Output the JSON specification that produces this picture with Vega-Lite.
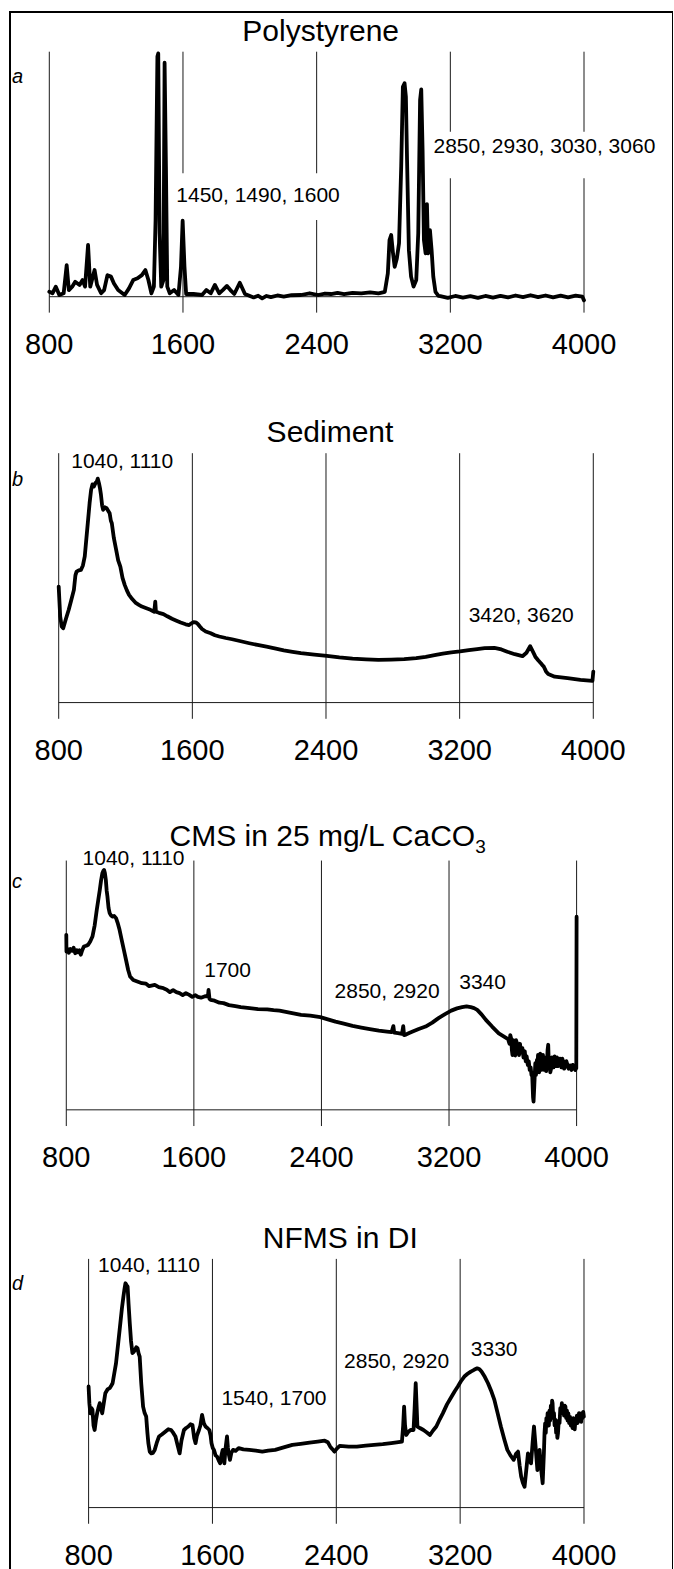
{
"$schema": "https://vega.github.io/schema/vega-lite/v6.json",
"width": 663, "height": 1560,
"autosize": {"type": "none"},
"padding": {"left": 10, "top": 12, "right": 0, "bottom": 0},
"background": "white",
"config": {"view": {"stroke": "black", "strokeWidth": 2}, "text": {"font": "Liberation Sans", "color": "black"}, "line": {"color": "black", "strokeWidth": 3.8, "strokeJoin": "round", "strokeCap": "round"}},
"datasets": {
"one": [{}],
"grid": [{"wn": 800, "lab": "800"}, {"wn": 1600, "lab": "1600"}, {"wn": 2400, "lab": "2400"}, {"wn": 3200, "lab": "3200"}, {"wn": 4000, "lab": "4000"}],
"annA": [{"wn": 1560, "a": 41.1, "label": "1450, 1490, 1600"}, {"wn": 3099, "a": 60.9, "label": "2850, 2930, 3030, 3060"}],
"annB": [{"wn": 875, "a": 96.3, "label": "1040, 1110"}, {"wn": 3254, "a": 34.6, "label": "3420, 3620"}],
"annC": [{"wn": 902, "a": 100.7, "label": "1040, 1110"}, {"wn": 1665, "a": 55.8, "label": "1700"}, {"wn": 2482, "a": 47.1, "label": "2850, 2920"}, {"wn": 3264, "a": 50.8, "label": "3340"}],
"annD": [{"wn": 861, "a": 97.3, "label": "1040, 1110"}, {"wn": 1658, "a": 43.6, "label": "1540, 1700"}, {"wn": 2450, "a": 58.4, "label": "2850, 2920"}, {"wn": 3269, "a": 63.2, "label": "3330"}],
"specA": [
{"wn":800,"a":2.0},{"wn":819,"a":1.4},{"wn":839,"a":4.1},{"wn":860,"a":0.7},{"wn":886,"a":1.4},{"wn":904,"a":12.9},{"wn":917,"a":2.7},{"wn":937,"a":4.1},{"wn":955,"a":6.1},{"wn":981,"a":4.8},{"wn":999,"a":6.8},{"wn":1014,"a":4.1},{"wn":1032,"a":21.1},{"wn":1045,"a":4.1},{"wn":1071,"a":10.9},{"wn":1086,"a":4.8},{"wn":1110,"a":1.4},{"wn":1128,"a":2.7},{"wn":1148,"a":8.8},{"wn":1169,"a":8.2},{"wn":1187,"a":5.4},{"wn":1212,"a":2.7},{"wn":1251,"a":0.7},{"wn":1277,"a":3.4},{"wn":1302,"a":6.8},{"wn":1328,"a":7.5},{"wn":1354,"a":8.8},{"wn":1375,"a":10.9},{"wn":1393,"a":6.8},{"wn":1411,"a":1.4},{"wn":1426,"a":4.1},{"wn":1436,"a":31.3},{"wn":1447,"a":98.0},{"wn":1452,"a":99.3},{"wn":1460,"a":25.9},{"wn":1470,"a":4.1},{"wn":1483,"a":6.8},{"wn":1490,"a":95.5},{"wn":1498,"a":53.1},{"wn":1506,"a":4.1},{"wn":1521,"a":1.4},{"wn":1547,"a":2.7},{"wn":1573,"a":0.7},{"wn":1588,"a":12.2},{"wn":1598,"a":31.0},{"wn":1609,"a":12.2},{"wn":1619,"a":1.1},{"wn":1663,"a":1.1},{"wn":1714,"a":0.7},{"wn":1740,"a":2.7},{"wn":1766,"a":1.4},{"wn":1791,"a":4.8},{"wn":1817,"a":1.4},{"wn":1838,"a":2.7},{"wn":1863,"a":4.4},{"wn":1884,"a":2.7},{"wn":1907,"a":1.1},{"wn":1940,"a":5.7},{"wn":1971,"a":1.1},{"wn":2023,"a":-0.3},{"wn":2050,"a":0.4},{"wn":2074,"a":-0.7},{"wn":2100,"a":0.3},{"wn":2126,"a":-0.2},{"wn":2165,"a":0.5},{"wn":2203,"a":0},{"wn":2250,"a":0.6},{"wn":2306,"a":0.7},{"wn":2358,"a":1.4},{"wn":2409,"a":0.7},{"wn":2450,"a":1.3},{"wn":2486,"a":1.1},{"wn":2525,"a":1.6},{"wn":2564,"a":1.1},{"wn":2615,"a":1.6},{"wn":2667,"a":1.4},{"wn":2720,"a":1.8},{"wn":2770,"a":1.4},{"wn":2808,"a":2.0},{"wn":2826,"a":9.5},{"wn":2836,"a":23.1},{"wn":2846,"a":25.2},{"wn":2857,"a":17.7},{"wn":2867,"a":12.2},{"wn":2880,"a":15.6},{"wn":2893,"a":21.8},{"wn":2906,"a":53.1},{"wn":2916,"a":85.7},{"wn":2926,"a":87.1},{"wn":2934,"a":81.6},{"wn":2941,"a":55.8},{"wn":2952,"a":19.0},{"wn":2965,"a":8.2},{"wn":2980,"a":4.1},{"wn":2996,"a":6.8},{"wn":3008,"a":25.9},{"wn":3019,"a":80.3},{"wn":3026,"a":84.6},{"wn":3034,"a":59.9},{"wn":3042,"a":23.1},{"wn":3052,"a":17.7},{"wn":3060,"a":37.8},{"wn":3067,"a":17.7},{"wn":3078,"a":27.2},{"wn":3088,"a":19.0},{"wn":3098,"a":8.2},{"wn":3111,"a":2.0},{"wn":3129,"a":0.3},{"wn":3140,"a":0.2},{"wn":3185,"a":-0.5},{"wn":3230,"a":0.3},{"wn":3275,"a":-0.4},{"wn":3320,"a":0.2},{"wn":3365,"a":-0.5},{"wn":3410,"a":0.3},{"wn":3455,"a":-0.4},{"wn":3500,"a":0.3},{"wn":3545,"a":-0.3},{"wn":3590,"a":0.5},{"wn":3635,"a":-0.2},{"wn":3680,"a":0.6},{"wn":3725,"a":-0.2},{"wn":3770,"a":0.5},{"wn":3815,"a":-0.3},{"wn":3860,"a":0.4},{"wn":3905,"a":-0.3},{"wn":3950,"a":0.4},{"wn":3990,"a":0},{"wn":4000,"a":-1.5}],
"specB": [
{"wn":800,"a":46.5},{"wn":809,"a":34.5},{"wn":818,"a":30.5},{"wn":827,"a":29.8},{"wn":843,"a":33.5},{"wn":860,"a":37.2},{"wn":875,"a":41},{"wn":891,"a":45.2},{"wn":900,"a":51},{"wn":907,"a":52.5},{"wn":920,"a":53},{"wn":933,"a":53.2},{"wn":945,"a":55},{"wn":956,"a":58.6},{"wn":966,"a":66},{"wn":976,"a":73.3},{"wn":985,"a":80},{"wn":994,"a":85.3},{"wn":1002,"a":87.5},{"wn":1010,"a":86.6},{"wn":1020,"a":88},{"wn":1028,"a":88.6},{"wn":1034,"a":89.8},{"wn":1041,"a":88.0},{"wn":1047,"a":86},{"wn":1053,"a":83.3},{"wn":1060,"a":79},{"wn":1066,"a":77.3},{"wn":1075,"a":78.3},{"wn":1087,"a":77.9},{"wn":1095,"a":77},{"wn":1105,"a":75.9},{"wn":1112,"a":73},{"wn":1118,"a":71.9},{"wn":1130,"a":66},{"wn":1144,"a":61.2},{"wn":1156,"a":57},{"wn":1169,"a":54.5},{"wn":1182,"a":50},{"wn":1195,"a":47.2},{"wn":1208,"a":45},{"wn":1221,"a":43.2},{"wn":1240,"a":41.5},{"wn":1259,"a":40.1},{"wn":1280,"a":39.2},{"wn":1298,"a":38.5},{"wn":1325,"a":37.8},{"wn":1349,"a":37.2},{"wn":1372,"a":36.4},{"wn":1378,"a":40.5},{"wn":1382,"a":36.4},{"wn":1400,"a":36},{"wn":1427,"a":35.5},{"wn":1450,"a":34.6},{"wn":1478,"a":33.6},{"wn":1505,"a":32.8},{"wn":1530,"a":32.1},{"wn":1560,"a":31.4},{"wn":1581,"a":31.1},{"wn":1595,"a":31.8},{"wn":1607,"a":32.3},{"wn":1620,"a":32.2},{"wn":1633,"a":31.5},{"wn":1645,"a":30.5},{"wn":1658,"a":29.5},{"wn":1680,"a":28.5},{"wn":1710,"a":27.8},{"wn":1735,"a":27},{"wn":1761,"a":26.5},{"wn":1800,"a":25.9},{"wn":1838,"a":25.4},{"wn":1890,"a":24.6},{"wn":1941,"a":23.8},{"wn":1990,"a":23.1},{"wn":2044,"a":22.4},{"wn":2100,"a":21.6},{"wn":2147,"a":20.9},{"wn":2200,"a":20.3},{"wn":2250,"a":19.8},{"wn":2330,"a":19.2},{"wn":2405,"a":18.7},{"wn":2480,"a":18.1},{"wn":2559,"a":17.6},{"wn":2640,"a":17.3},{"wn":2713,"a":17.1},{"wn":2790,"a":17.2},{"wn":2868,"a":17.4},{"wn":2940,"a":17.8},{"wn":2997,"a":18.3},{"wn":3050,"a":19},{"wn":3099,"a":19.6},{"wn":3150,"a":20.1},{"wn":3202,"a":20.5},{"wn":3255,"a":21.0},{"wn":3305,"a":21.4},{"wn":3350,"a":21.8},{"wn":3408,"a":21.9},{"wn":3450,"a":21.3},{"wn":3485,"a":20.4},{"wn":3530,"a":19.4},{"wn":3576,"a":18.6},{"wn":3600,"a":20},{"wn":3622,"a":22.6},{"wn":3640,"a":20.2},{"wn":3653,"a":18.4},{"wn":3670,"a":17.0},{"wn":3686,"a":15.8},{"wn":3695,"a":15},{"wn":3704,"a":14.4},{"wn":3717,"a":12.5},{"wn":3730,"a":11.5},{"wn":3769,"a":10.4},{"wn":3846,"a":9.8},{"wn":3923,"a":9.1},{"wn":3995,"a":8.7},{"wn":4000,"a":12.4}],
"specC": [
{"wn":800,"a":70.2},{"wn":801,"a":63.5},{"wn":808,"a":64.5},{"wn":816,"a":63.0},{"wn":826,"a":64.5},{"wn":837,"a":63.8},{"wn":846,"a":65},{"wn":856,"a":62.8},{"wn":866,"a":64},{"wn":875,"a":63.2},{"wn":883,"a":64},{"wn":891,"a":62.2},{"wn":900,"a":64},{"wn":910,"a":65.5},{"wn":925,"a":65.8},{"wn":937,"a":66.2},{"wn":950,"a":67.5},{"wn":964,"a":69.5},{"wn":978,"a":74},{"wn":991,"a":80.2},{"wn":1000,"a":84},{"wn":1010,"a":88.2},{"wn":1018,"a":92},{"wn":1026,"a":94.9},{"wn":1032,"a":95.8},{"wn":1037,"a":96.2},{"wn":1042,"a":95},{"wn":1048,"a":92.2},{"wn":1053,"a":88},{"wn":1058,"a":85.6},{"wn":1065,"a":81},{"wn":1072,"a":78.9},{"wn":1080,"a":78},{"wn":1091,"a":77.5},{"wn":1100,"a":77.8},{"wn":1112,"a":76.9},{"wn":1122,"a":75},{"wn":1134,"a":72.2},{"wn":1148,"a":68},{"wn":1161,"a":64.2},{"wn":1175,"a":60},{"wn":1188,"a":56.1},{"wn":1200,"a":53.5},{"wn":1220,"a":52.1},{"wn":1245,"a":51.5},{"wn":1274,"a":50.8},{"wn":1300,"a":50.6},{"wn":1320,"a":49.6},{"wn":1355,"a":50.1},{"wn":1380,"a":49.2},{"wn":1409,"a":48.8},{"wn":1430,"a":48.2},{"wn":1450,"a":47.2},{"wn":1470,"a":48.0},{"wn":1490,"a":47.2},{"wn":1510,"a":46.8},{"wn":1530,"a":46.0},{"wn":1550,"a":46.8},{"wn":1571,"a":46.1},{"wn":1590,"a":45.3},{"wn":1610,"a":46.0},{"wn":1625,"a":45.3},{"wn":1645,"a":45.0},{"wn":1670,"a":45.6},{"wn":1688,"a":45.5},{"wn":1692,"a":48.1},{"wn":1698,"a":44.5},{"wn":1705,"a":44.1},{"wn":1730,"a":43.8},{"wn":1760,"a":43.0},{"wn":1786,"a":42.8},{"wn":1820,"a":42.0},{"wn":1860,"a":41.6},{"wn":1894,"a":41.2},{"wn":1950,"a":40.8},{"wn":2002,"a":40.4},{"wn":2060,"a":40.3},{"wn":2100,"a":40.0},{"wn":2137,"a":39.8},{"wn":2200,"a":39.0},{"wn":2272,"a":38.1},{"wn":2330,"a":37.8},{"wn":2393,"a":37.2},{"wn":2440,"a":36.3},{"wn":2488,"a":35.4},{"wn":2540,"a":34.6},{"wn":2595,"a":33.7},{"wn":2650,"a":33.0},{"wn":2703,"a":32.4},{"wn":2760,"a":31.8},{"wn":2811,"a":31.4},{"wn":2840,"a":31.2},{"wn":2851,"a":33.6},{"wn":2856,"a":31.0},{"wn":2880,"a":30.8},{"wn":2905,"a":30.5},{"wn":2913,"a":33.6},{"wn":2918,"a":30.0},{"wn":2930,"a":30.2},{"wn":2950,"a":30.8},{"wn":2972,"a":31.4},{"wn":3010,"a":32.4},{"wn":3053,"a":33.4},{"wn":3095,"a":35.0},{"wn":3134,"a":36.8},{"wn":3175,"a":38.4},{"wn":3214,"a":39.8},{"wn":3250,"a":40.7},{"wn":3282,"a":41.2},{"wn":3310,"a":41.5},{"wn":3336,"a":41.2},{"wn":3357,"a":40.8},{"wn":3377,"a":40.1},{"wn":3405,"a":38.2},{"wn":3431,"a":36.1},{"wn":3470,"a":33.4},{"wn":3512,"a":30.7},{"wn":3550,"a":29.2},{"wn":3570,"a":28.4},{"wn":3579,"a":26.5},{"wn":3584,"a":30},{"wn":3590,"a":28.5},{"wn":3594,"a":24},{"wn":3598,"a":22},{"wn":3602,"a":28},{"wn":3606,"a":26},{"wn":3610,"a":22},{"wn":3615,"a":21.8},{"wn":3620,"a":28},{"wn":3625,"a":27},{"wn":3629,"a":23},{"wn":3633,"a":25.5},{"wn":3639,"a":22},{"wn":3645,"a":26.5},{"wn":3652,"a":23},{"wn":3660,"a":24.8},{"wn":3667,"a":21},{"wn":3675,"a":23.5},{"wn":3681,"a":19.5},{"wn":3687,"a":21.4},{"wn":3694,"a":18},{"wn":3700,"a":19.5},{"wn":3706,"a":16},{"wn":3712,"a":17},{"wn":3717,"a":14},{"wn":3722,"a":13.4},{"wn":3727,"a":5},{"wn":3730,"a":3.3},{"wn":3735,"a":10},{"wn":3741,"a":18.7},{"wn":3745,"a":14},{"wn":3748,"a":15.5},{"wn":3751,"a":20},{"wn":3754,"a":16.0},{"wn":3758,"a":22},{"wn":3762,"a":20},{"wn":3765,"a":15},{"wn":3768,"a":17},{"wn":3772,"a":22.5},{"wn":3776,"a":21.4},{"wn":3780,"a":16},{"wn":3785,"a":17.5},{"wn":3789,"a":22},{"wn":3795,"a":16.0},{"wn":3800,"a":21},{"wn":3805,"a":20},{"wn":3809,"a":15.5},{"wn":3814,"a":18},{"wn":3818,"a":24},{"wn":3822,"a":26.1},{"wn":3826,"a":18},{"wn":3830,"a":19},{"wn":3835,"a":15},{"wn":3841,"a":16.7},{"wn":3845,"a":21},{"wn":3850,"a":20},{"wn":3855,"a":17},{"wn":3862,"a":21.4},{"wn":3867,"a":17.5},{"wn":3872,"a":18.5},{"wn":3877,"a":21},{"wn":3883,"a":17.5},{"wn":3889,"a":18.7},{"wn":3895,"a":20.5},{"wn":3900,"a":20},{"wn":3905,"a":17},{"wn":3910,"a":20.5},{"wn":3916,"a":19.4},{"wn":3922,"a":16.5},{"wn":3930,"a":17.8},{"wn":3936,"a":19.5},{"wn":3943,"a":18.0},{"wn":3950,"a":16.5},{"wn":3960,"a":17.8},{"wn":3968,"a":16},{"wn":3976,"a":18},{"wn":3984,"a":17.1},{"wn":3992,"a":16},{"wn":3998,"a":16.7},{"wn":4000,"a":77.5}],
"specD": [
{"wn":800,"a":48.7},{"wn":805,"a":42},{"wn":811,"a":37.9},{"wn":818,"a":40},{"wn":825,"a":39.3},{"wn":832,"a":33},{"wn":839,"a":31.2},{"wn":847,"a":35},{"wn":855,"a":37.9},{"wn":863,"a":40},{"wn":872,"a":42.0},{"wn":880,"a":40},{"wn":888,"a":37.9},{"wn":898,"a":42},{"wn":908,"a":46.0},{"wn":922,"a":47.5},{"wn":936,"a":48.0},{"wn":946,"a":49},{"wn":955,"a":50.0},{"wn":966,"a":54},{"wn":977,"a":58.0},{"wn":991,"a":66},{"wn":1005,"a":74.1},{"wn":1015,"a":80},{"wn":1025,"a":84.9},{"wn":1032,"a":88},{"wn":1038,"a":90.2},{"wn":1045,"a":89.5},{"wn":1052,"a":88.9},{"wn":1058,"a":82},{"wn":1066,"a":74.1},{"wn":1074,"a":67},{"wn":1083,"a":62.1},{"wn":1090,"a":62.5},{"wn":1100,"a":63.4},{"wn":1108,"a":64.5},{"wn":1116,"a":64.1},{"wn":1123,"a":62},{"wn":1130,"a":60.7},{"wn":1140,"a":50},{"wn":1152,"a":40.6},{"wn":1162,"a":38},{"wn":1172,"a":36.6},{"wn":1180,"a":30},{"wn":1186,"a":25.9},{"wn":1195,"a":22.5},{"wn":1205,"a":21.8},{"wn":1215,"a":22},{"wn":1227,"a":23.2},{"wn":1240,"a":26},{"wn":1255,"a":28.6},{"wn":1275,"a":29.5},{"wn":1297,"a":30.6},{"wn":1315,"a":31.5},{"wn":1333,"a":31.2},{"wn":1347,"a":30},{"wn":1361,"a":28.6},{"wn":1375,"a":25},{"wn":1388,"a":21.8},{"wn":1400,"a":27},{"wn":1416,"a":31.2},{"wn":1430,"a":32},{"wn":1444,"a":32.6},{"wn":1458,"a":33.5},{"wn":1471,"a":33.2},{"wn":1482,"a":28},{"wn":1491,"a":25.9},{"wn":1500,"a":29},{"wn":1513,"a":31.2},{"wn":1522,"a":33},{"wn":1533,"a":37.3},{"wn":1544,"a":34},{"wn":1555,"a":32.6},{"wn":1567,"a":32},{"wn":1580,"a":31.2},{"wn":1588,"a":29},{"wn":1594,"a":25.9},{"wn":1602,"a":24},{"wn":1610,"a":23.2},{"wn":1620,"a":21},{"wn":1630,"a":20.5},{"wn":1640,"a":19},{"wn":1650,"a":17.8},{"wn":1658,"a":21},{"wn":1666,"a":23.2},{"wn":1672,"a":20},{"wn":1677,"a":17.8},{"wn":1685,"a":24},{"wn":1694,"a":28.6},{"wn":1700,"a":24},{"wn":1707,"a":21},{"wn":1713,"a":19.2},{"wn":1722,"a":22},{"wn":1733,"a":23.2},{"wn":1750,"a":22.8},{"wn":1769,"a":23.9},{"wn":1800,"a":23.4},{"wn":1838,"a":23.2},{"wn":1880,"a":22.9},{"wn":1922,"a":22.5},{"wn":1960,"a":22.9},{"wn":2005,"a":23.2},{"wn":2060,"a":24.2},{"wn":2116,"a":25.2},{"wn":2170,"a":25.6},{"wn":2227,"a":26.1},{"wn":2280,"a":26.5},{"wn":2325,"a":26.9},{"wn":2345,"a":26.3},{"wn":2361,"a":24.5},{"wn":2375,"a":23.5},{"wn":2388,"a":22.5},{"wn":2405,"a":23.8},{"wn":2422,"a":24.8},{"wn":2480,"a":24.5},{"wn":2533,"a":24.5},{"wn":2590,"a":24.9},{"wn":2644,"a":25.2},{"wn":2700,"a":25.5},{"wn":2755,"a":25.9},{"wn":2790,"a":26.2},{"wn":2824,"a":26.5},{"wn":2832,"a":33},{"wn":2838,"a":40.6},{"wn":2844,"a":33},{"wn":2852,"a":29.2},{"wn":2866,"a":30.5},{"wn":2880,"a":31.2},{"wn":2899,"a":31.2},{"wn":2906,"a":40},{"wn":2913,"a":50.0},{"wn":2918,"a":42},{"wn":2924,"a":32.6},{"wn":2940,"a":32},{"wn":2963,"a":31.2},{"wn":2985,"a":30.2},{"wn":3005,"a":29.2},{"wn":3025,"a":31},{"wn":3046,"a":32.6},{"wn":3068,"a":35.5},{"wn":3088,"a":37.9},{"wn":3115,"a":41.5},{"wn":3144,"a":44.6},{"wn":3165,"a":46.8},{"wn":3185,"a":48.7},{"wn":3205,"a":50.8},{"wn":3227,"a":52.7},{"wn":3248,"a":53.8},{"wn":3269,"a":54.7},{"wn":3290,"a":55.4},{"wn":3310,"a":56.0},{"wn":3325,"a":55.6},{"wn":3338,"a":54.7},{"wn":3360,"a":52.5},{"wn":3380,"a":50.0},{"wn":3400,"a":47},{"wn":3421,"a":43.3},{"wn":3442,"a":38},{"wn":3463,"a":32.6},{"wn":3485,"a":27.5},{"wn":3505,"a":23.2},{"wn":3525,"a":21},{"wn":3546,"a":19.2},{"wn":3560,"a":21.5},{"wn":3574,"a":22.5},{"wn":3584,"a":17},{"wn":3594,"a":12.5},{"wn":3605,"a":10},{"wn":3616,"a":8.4},{"wn":3627,"a":15},{"wn":3638,"a":21.8},{"wn":3648,"a":19},{"wn":3658,"a":17.8},{"wn":3668,"a":26},{"wn":3677,"a":32.6},{"wn":3688,"a":24},{"wn":3699,"a":15.1},{"wn":3706,"a":19},{"wn":3713,"a":23.2},{"wn":3722,"a":16},{"wn":3733,"a":9.8},{"wn":3741,"a":22},{"wn":3745,"a":30},{"wn":3749,"a":33.9},{"wn":3753,"a":30},{"wn":3757,"a":36},{"wn":3761,"a":33},{"wn":3765,"a":38},{"wn":3769,"a":36.6},{"wn":3773,"a":33},{"wn":3777,"a":39},{"wn":3781,"a":35},{"wn":3786,"a":41},{"wn":3790,"a":36},{"wn":3794,"a":43},{"wn":3797,"a":42.0},{"wn":3801,"a":36},{"wn":3806,"a":38},{"wn":3810,"a":33},{"wn":3816,"a":35.3},{"wn":3820,"a":30},{"wn":3824,"a":32},{"wn":3828,"a":28},{"wn":3832,"a":29.9},{"wn":3837,"a":35},{"wn":3842,"a":34},{"wn":3847,"a":40},{"wn":3852,"a":37.9},{"wn":3857,"a":42},{"wn":3862,"a":38},{"wn":3866,"a":41},{"wn":3871,"a":37},{"wn":3876,"a":41},{"wn":3880,"a":40.6},{"wn":3885,"a":36},{"wn":3890,"a":39},{"wn":3894,"a":35},{"wn":3899,"a":37.9},{"wn":3904,"a":34},{"wn":3910,"a":36.5},{"wn":3915,"a":33},{"wn":3921,"a":35.3},{"wn":3926,"a":32},{"wn":3931,"a":36},{"wn":3935,"a":34.5},{"wn":3940,"a":31.5},{"wn":3945,"a":35.5},{"wn":3949,"a":33.9},{"wn":3954,"a":37},{"wn":3958,"a":34},{"wn":3963,"a":35.5},{"wn":3968,"a":38},{"wn":3972,"a":35},{"wn":3977,"a":36.6},{"wn":3982,"a":34.5},{"wn":3986,"a":38},{"wn":3990,"a":36},{"wn":3995,"a":38.5},{"wn":3999,"a":36.6}]
},
"layer": [
{"layer": [
 {"data": {"name": "grid"}, "mark": {"type": "rule", "color": "#1a1a1a", "strokeWidth": 1},
  "encoding": {"x": {"field": "wn", "type": "quantitative", "scale": {"domain": [564.8, 4532.6], "nice": false, "zero": false}, "axis": null},
   "y": {"datum": 100, "type": "quantitative", "scale": {"domain": [-520.5, 116.2], "nice": false, "zero": false}, "axis": null}, "y2": {"datum": -6.5}}},
 {"data": {"name": "one"}, "mark": {"type": "rect", "color": "white"},
  "encoding": {"x": {"datum": 1522, "type": "quantitative", "scale": {"domain": [564.8, 4532.6], "nice": false, "zero": false}, "axis": null}, "x2": {"datum": 2569},
   "y": {"datum": 31.3, "type": "quantitative", "scale": {"domain": [-520.5, 116.2], "nice": false, "zero": false}, "axis": null}, "y2": {"datum": 50.4}}},
 {"data": {"name": "one"}, "mark": {"type": "rect", "color": "white"},
  "encoding": {"x": {"datum": 3070, "type": "quantitative", "scale": {"domain": [564.8, 4532.6], "nice": false, "zero": false}, "axis": null}, "x2": {"datum": 4520},
   "y": {"datum": 48.3, "type": "quantitative", "scale": {"domain": [-520.5, 116.2], "nice": false, "zero": false}, "axis": null}, "y2": {"datum": 67.3}}},
 {"data": {"name": "one"}, "mark": {"type": "rule", "color": "#1a1a1a", "strokeWidth": 1},
  "encoding": {"x": {"datum": 800, "type": "quantitative", "scale": {"domain": [564.8, 4532.6], "nice": false, "zero": false}, "axis": null}, "x2": {"datum": 4000},
   "y": {"datum": 0, "type": "quantitative", "scale": {"domain": [-520.5, 116.2], "nice": false, "zero": false}, "axis": null}}},
 {"data": {"name": "specA"}, "mark": {"type": "line"},
  "encoding": {"x": {"field": "wn", "type": "quantitative", "scale": {"domain": [564.8, 4532.6], "nice": false, "zero": false}, "axis": null},
   "y": {"field": "a", "type": "quantitative", "scale": {"domain": [-520.5, 116.2], "nice": false, "zero": false}, "axis": null}, "order": {"value": null}}},
 {"data": {"name": "grid"}, "mark": {"type": "text", "fontSize": 29, "align": "center", "baseline": "alphabetic", "dy": 57},
  "encoding": {"x": {"field": "wn", "type": "quantitative", "scale": {"domain": [564.8, 4532.6], "nice": false, "zero": false}, "axis": null},
   "y": {"datum": 0, "type": "quantitative", "scale": {"domain": [-520.5, 116.2], "nice": false, "zero": false}, "axis": null}, "text": {"field": "lab", "type": "nominal"}}},
 {"data": {"name": "annA"}, "mark": {"type": "text", "fontSize": 21, "align": "left", "baseline": "middle"},
  "encoding": {"x": {"field": "wn", "type": "quantitative", "scale": {"domain": [564.8, 4532.6], "nice": false, "zero": false}, "axis": null},
   "y": {"field": "a", "type": "quantitative", "scale": {"domain": [-520.5, 116.2], "nice": false, "zero": false}, "axis": null}, "text": {"field": "label", "type": "nominal"}}},
 {"data": {"name": "one"}, "mark": {"type": "text", "text": "Polystyrene", "fontSize": 30, "align": "center", "baseline": "alphabetic", "dx": 4, "dy": -11},
  "encoding": {"x": {"datum": 2400, "type": "quantitative", "scale": {"domain": [564.8, 4532.6], "nice": false, "zero": false}, "axis": null},
   "y": {"datum": 100, "type": "quantitative", "scale": {"domain": [-520.5, 116.2], "nice": false, "zero": false}, "axis": null}}},
 {"data": {"name": "one"}, "mark": {"type": "text", "text": "a", "fontSize": 20, "fontStyle": "italic", "align": "left", "baseline": "alphabetic"},
  "encoding": {"x": {"datum": 576.8, "type": "quantitative", "scale": {"domain": [564.8, 4532.6], "nice": false, "zero": false}, "axis": null},
   "y": {"datum": 87.1, "type": "quantitative", "scale": {"domain": [-520.5, 116.2], "nice": false, "zero": false}, "axis": null}}}
]},
{"layer": [
 {"data": {"name": "grid"}, "mark": {"type": "rule", "color": "#1a1a1a", "strokeWidth": 1},
  "encoding": {"x": {"field": "wn", "type": "quantitative", "scale": {"domain": [508.5, 4477.1], "nice": false, "zero": false}, "axis": null},
   "y": {"datum": 100, "type": "quantitative", "scale": {"domain": [-348.6, 276.9], "nice": false, "zero": false}, "axis": null}, "y2": {"datum": -6.5}}},
 {"data": {"name": "one"}, "mark": {"type": "rule", "color": "#1a1a1a", "strokeWidth": 1},
  "encoding": {"x": {"datum": 800, "type": "quantitative", "scale": {"domain": [508.5, 4477.1], "nice": false, "zero": false}, "axis": null}, "x2": {"datum": 4000},
   "y": {"datum": 0, "type": "quantitative", "scale": {"domain": [-348.6, 276.9], "nice": false, "zero": false}, "axis": null}}},
 {"data": {"name": "specB"}, "mark": {"type": "line"},
  "encoding": {"x": {"field": "wn", "type": "quantitative", "scale": {"domain": [508.5, 4477.1], "nice": false, "zero": false}, "axis": null},
   "y": {"field": "a", "type": "quantitative", "scale": {"domain": [-348.6, 276.9], "nice": false, "zero": false}, "axis": null}, "order": {"value": null}}},
 {"data": {"name": "grid"}, "mark": {"type": "text", "fontSize": 29, "align": "center", "baseline": "alphabetic", "dy": 57},
  "encoding": {"x": {"field": "wn", "type": "quantitative", "scale": {"domain": [508.5, 4477.1], "nice": false, "zero": false}, "axis": null},
   "y": {"datum": 0, "type": "quantitative", "scale": {"domain": [-348.6, 276.9], "nice": false, "zero": false}, "axis": null}, "text": {"field": "lab", "type": "nominal"}}},
 {"data": {"name": "annB"}, "mark": {"type": "text", "fontSize": 21, "align": "left", "baseline": "middle"},
  "encoding": {"x": {"field": "wn", "type": "quantitative", "scale": {"domain": [508.5, 4477.1], "nice": false, "zero": false}, "axis": null},
   "y": {"field": "a", "type": "quantitative", "scale": {"domain": [-348.6, 276.9], "nice": false, "zero": false}, "axis": null}, "text": {"field": "label", "type": "nominal"}}},
 {"data": {"name": "one"}, "mark": {"type": "text", "text": "Sediment", "fontSize": 30, "align": "center", "baseline": "alphabetic", "dx": 4, "dy": -11},
  "encoding": {"x": {"datum": 2400, "type": "quantitative", "scale": {"domain": [508.5, 4477.1], "nice": false, "zero": false}, "axis": null},
   "y": {"datum": 100, "type": "quantitative", "scale": {"domain": [-348.6, 276.9], "nice": false, "zero": false}, "axis": null}}},
 {"data": {"name": "one"}, "mark": {"type": "text", "text": "b", "fontSize": 20, "fontStyle": "italic", "align": "left", "baseline": "alphabetic"},
  "encoding": {"x": {"datum": 520.5, "type": "quantitative", "scale": {"domain": [508.5, 4477.1], "nice": false, "zero": false}, "axis": null},
   "y": {"datum": 86.9, "type": "quantitative", "scale": {"domain": [-348.6, 276.9], "nice": false, "zero": false}, "axis": null}}}
]},
{"layer": [
 {"data": {"name": "grid"}, "mark": {"type": "rule", "color": "#1a1a1a", "strokeWidth": 1},
  "encoding": {"x": {"field": "wn", "type": "quantitative", "scale": {"domain": [447.0, 4604.5], "nice": false, "zero": false}, "axis": null},
   "y": {"datum": 100, "type": "quantitative", "scale": {"domain": [-185.4, 440.4], "nice": false, "zero": false}, "axis": null}, "y2": {"datum": -6.5}}},
 {"data": {"name": "one"}, "mark": {"type": "rule", "color": "#1a1a1a", "strokeWidth": 1},
  "encoding": {"x": {"datum": 800, "type": "quantitative", "scale": {"domain": [447.0, 4604.5], "nice": false, "zero": false}, "axis": null}, "x2": {"datum": 4000},
   "y": {"datum": 0, "type": "quantitative", "scale": {"domain": [-185.4, 440.4], "nice": false, "zero": false}, "axis": null}}},
 {"data": {"name": "specC"}, "mark": {"type": "line"},
  "encoding": {"x": {"field": "wn", "type": "quantitative", "scale": {"domain": [447.0, 4604.5], "nice": false, "zero": false}, "axis": null},
   "y": {"field": "a", "type": "quantitative", "scale": {"domain": [-185.4, 440.4], "nice": false, "zero": false}, "axis": null}, "order": {"value": null}}},
 {"data": {"name": "grid"}, "mark": {"type": "text", "fontSize": 29, "align": "center", "baseline": "alphabetic", "dy": 57},
  "encoding": {"x": {"field": "wn", "type": "quantitative", "scale": {"domain": [447.0, 4604.5], "nice": false, "zero": false}, "axis": null},
   "y": {"datum": 0, "type": "quantitative", "scale": {"domain": [-185.4, 440.4], "nice": false, "zero": false}, "axis": null}, "text": {"field": "lab", "type": "nominal"}}},
 {"data": {"name": "annC"}, "mark": {"type": "text", "fontSize": 21, "align": "left", "baseline": "middle"},
  "encoding": {"x": {"field": "wn", "type": "quantitative", "scale": {"domain": [447.0, 4604.5], "nice": false, "zero": false}, "axis": null},
   "y": {"field": "a", "type": "quantitative", "scale": {"domain": [-185.4, 440.4], "nice": false, "zero": false}, "axis": null}, "text": {"field": "label", "type": "nominal"}}},
 {"data": {"name": "one"}, "mark": {"type": "text", "text": "CMS in 25 mg/L CaCO", "fontSize": 30, "align": "right", "baseline": "alphabetic", "dy": -14.7},
  "encoding": {"x": {"datum": 3364, "type": "quantitative", "scale": {"domain": [447.0, 4604.5], "nice": false, "zero": false}, "axis": null},
   "y": {"datum": 100, "type": "quantitative", "scale": {"domain": [-185.4, 440.4], "nice": false, "zero": false}, "axis": null}}},
 {"data": {"name": "one"}, "mark": {"type": "text", "text": "3", "fontSize": 19, "align": "left", "baseline": "alphabetic", "dy": -8},
  "encoding": {"x": {"datum": 3364, "type": "quantitative", "scale": {"domain": [447.0, 4604.5], "nice": false, "zero": false}, "axis": null},
   "y": {"datum": 100, "type": "quantitative", "scale": {"domain": [-185.4, 440.4], "nice": false, "zero": false}, "axis": null}}},
 {"data": {"name": "one"}, "mark": {"type": "text", "text": "c", "fontSize": 20, "fontStyle": "italic", "align": "left", "baseline": "alphabetic"},
  "encoding": {"x": {"datum": 459.5, "type": "quantitative", "scale": {"domain": [447.0, 4604.5], "nice": false, "zero": false}, "axis": null},
   "y": {"datum": 88.9, "type": "quantitative", "scale": {"domain": [-185.4, 440.4], "nice": false, "zero": false}, "axis": null}}}
]},
{"layer": [
 {"data": {"name": "grid"}, "mark": {"type": "rule", "color": "#1a1a1a", "strokeWidth": 1},
  "encoding": {"x": {"field": "wn", "type": "quantitative", "scale": {"domain": [292.3, 4574.9], "nice": false, "zero": false}, "axis": null},
   "y": {"datum": 100, "type": "quantitative", "scale": {"domain": [-25.9, 601.4], "nice": false, "zero": false}, "axis": null}, "y2": {"datum": -6.5}}},
 {"data": {"name": "one"}, "mark": {"type": "rule", "color": "#1a1a1a", "strokeWidth": 1},
  "encoding": {"x": {"datum": 800, "type": "quantitative", "scale": {"domain": [292.3, 4574.9], "nice": false, "zero": false}, "axis": null}, "x2": {"datum": 4000},
   "y": {"datum": 0, "type": "quantitative", "scale": {"domain": [-25.9, 601.4], "nice": false, "zero": false}, "axis": null}}},
 {"data": {"name": "specD"}, "mark": {"type": "line"},
  "encoding": {"x": {"field": "wn", "type": "quantitative", "scale": {"domain": [292.3, 4574.9], "nice": false, "zero": false}, "axis": null},
   "y": {"field": "a", "type": "quantitative", "scale": {"domain": [-25.9, 601.4], "nice": false, "zero": false}, "axis": null}, "order": {"value": null}}},
 {"data": {"name": "grid"}, "mark": {"type": "text", "fontSize": 29, "align": "center", "baseline": "alphabetic", "dy": 57},
  "encoding": {"x": {"field": "wn", "type": "quantitative", "scale": {"domain": [292.3, 4574.9], "nice": false, "zero": false}, "axis": null},
   "y": {"datum": 0, "type": "quantitative", "scale": {"domain": [-25.9, 601.4], "nice": false, "zero": false}, "axis": null}, "text": {"field": "lab", "type": "nominal"}}},
 {"data": {"name": "annD"}, "mark": {"type": "text", "fontSize": 21, "align": "left", "baseline": "middle"},
  "encoding": {"x": {"field": "wn", "type": "quantitative", "scale": {"domain": [292.3, 4574.9], "nice": false, "zero": false}, "axis": null},
   "y": {"field": "a", "type": "quantitative", "scale": {"domain": [-25.9, 601.4], "nice": false, "zero": false}, "axis": null}, "text": {"field": "label", "type": "nominal"}}},
 {"data": {"name": "one"}, "mark": {"type": "text", "text": "NFMS in DI", "fontSize": 30, "align": "center", "baseline": "alphabetic", "dx": 4, "dy": -11},
  "encoding": {"x": {"datum": 2400, "type": "quantitative", "scale": {"domain": [292.3, 4574.9], "nice": false, "zero": false}, "axis": null},
   "y": {"datum": 100, "type": "quantitative", "scale": {"domain": [-25.9, 601.4], "nice": false, "zero": false}, "axis": null}}},
 {"data": {"name": "one"}, "mark": {"type": "text", "text": "d", "fontSize": 20, "fontStyle": "italic", "align": "left", "baseline": "alphabetic"},
  "encoding": {"x": {"datum": 305.2, "type": "quantitative", "scale": {"domain": [292.3, 4574.9], "nice": false, "zero": false}, "axis": null},
   "y": {"datum": 87.5, "type": "quantitative", "scale": {"domain": [-25.9, 601.4], "nice": false, "zero": false}, "axis": null}}}
]}
],
"resolve": {"scale": {"x": "independent", "y": "independent"}}
}
